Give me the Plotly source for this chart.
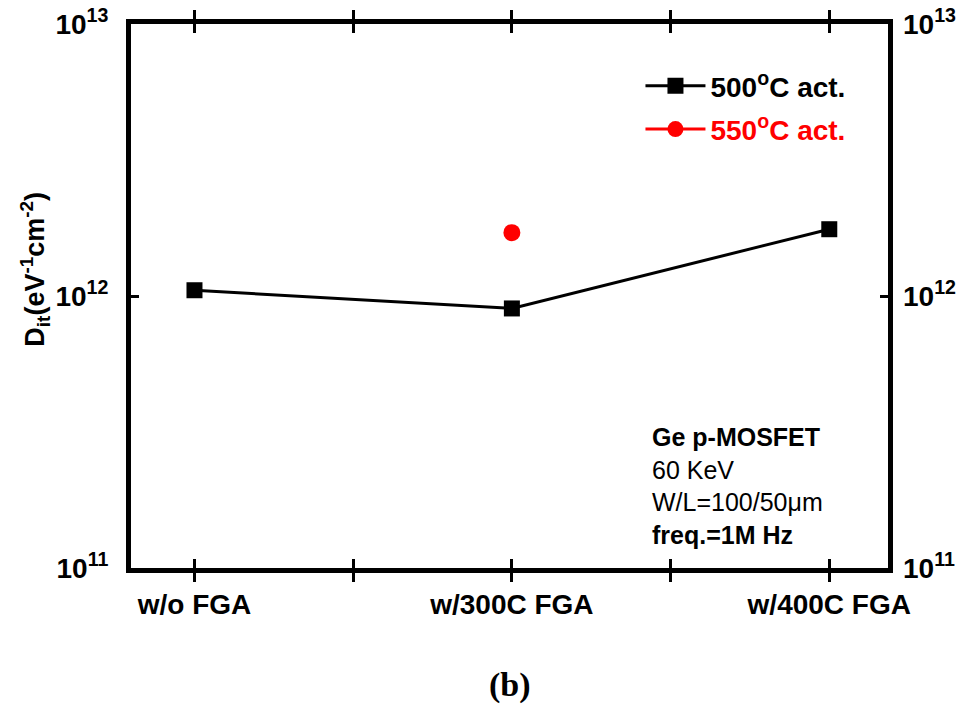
import plotly.graph_objects as go

categories = ["w/o FGA", "w/300C FGA", "w/400C FGA"]
cat_pos = [0, 1, 2]
dit_500 = [1.05e12, 9.0e11, 1.76e12]
pos_550 = [1]
dit_550 = [1.71e12]
ytick_vals = [1e11, 1e12, 1e13]
ytick_text = ["<b>10<sup>11</sup></b>", "<b>10<sup>12</sup></b>", "<b>10<sup>13</sup></b>"]

FONT = "Liberation Sans, Arial, sans-serif"

fig = go.Figure()
fig.add_trace(go.Scatter(
    x=cat_pos, y=dit_500, mode="lines+markers",
    name="<b>500<sup>o</sup>C act.</b>", legendgroup="a",
    line=dict(color="black", width=3),
    marker=dict(symbol="square", size=16, color="black"),
))
fig.add_trace(go.Scatter(
    x=pos_550, y=dit_550, mode="lines+markers",
    name="<b><span style='color:red'>550<sup>o</sup>C act.</span></b>", legendgroup="b",
    line=dict(color="red", width=3),
    marker=dict(symbol="circle", size=17, color="red"),
))
# dummy trace so the right axis is drawn
fig.add_trace(go.Scatter(x=[None], y=[None], yaxis="y2",
                         showlegend=False, hoverinfo="skip"))

xtick_vals = [0, 0.5, 1, 1.5, 2]
xtick_text = ["<b>" + categories[0] + "</b>", "", "<b>" + categories[1] + "</b>", "", "<b>" + categories[2] + "</b>"]
x_range = [-0.2, 2.185]

fig.update_layout(
    width=960, height=711,
    margin=dict(l=131, r=72, t=24, b=143, autoexpand=False),
    paper_bgcolor="white", plot_bgcolor="white",
    font=dict(family=FONT, size=22, color="black"),
    showlegend=True,
    legend=dict(x=0.673, y=0.932, xanchor="left", yanchor="top",
                font=dict(size=28, family=FONT), bgcolor="rgba(0,0,0,0)",
                itemwidth=60, traceorder="grouped", tracegroupgap=4),
    xaxis=dict(
        range=x_range, tickvals=xtick_vals, ticktext=xtick_text,
        ticks="inside", ticklen=9, tickwidth=3, tickcolor="black",
        showline=True, linewidth=5, linecolor="black", mirror="allticks",
        showgrid=False, zeroline=False, tickfont=dict(size=28, family=FONT),
        ticklabelstandoff=7,
    ),
    yaxis=dict(
        type="log", range=[11, 13], tickvals=ytick_vals, ticktext=ytick_text,
        ticks="inside", ticklen=8, tickwidth=3, tickcolor="black",
        showline=True, linewidth=5, linecolor="black", mirror=True,
        showgrid=False, zeroline=False, tickfont=dict(size=28, family=FONT),
        ticklabelstandoff=12,
    ),
    yaxis2=dict(
        type="log", range=[11, 13], overlaying="y", side="right",
        tickvals=ytick_vals, ticktext=ytick_text,
        ticks="inside", ticklen=8, tickwidth=3, tickcolor="black",
        showline=False, showgrid=False, zeroline=False,
        tickfont=dict(size=28, family=FONT), ticklabelstandoff=14,
    ),
)

fig.add_annotation(
    xref="paper", yref="paper", x=-0.127, y=0.55, xanchor="center", yanchor="middle",
    text="<b>D<sub>it</sub>(eV<sup>-1</sup>cm<sup>-2</sup>)</b>", textangle=-90,
    showarrow=False, font=dict(size=27, family=FONT, color="black"),
)
fig.add_annotation(
    xref="paper", yref="paper", x=0.686, y=0.27, xanchor="left", yanchor="top",
    text="<b>Ge p-MOSFET</b><br>60 KeV<br>W/L=100/50μm<br><b>freq.=1M Hz</b>",
    showarrow=False, align="left", font=dict(size=25, family=FONT, color="black"),
)
fig.add_annotation(
    xref="paper", yref="paper", x=0.5, y=-0.215, xanchor="center", yanchor="middle",
    text="<b>(b)</b>", showarrow=False,
    font=dict(size=34, family="Liberation Serif, Times New Roman, serif", color="black"),
)

fig.write_html("out.html")
